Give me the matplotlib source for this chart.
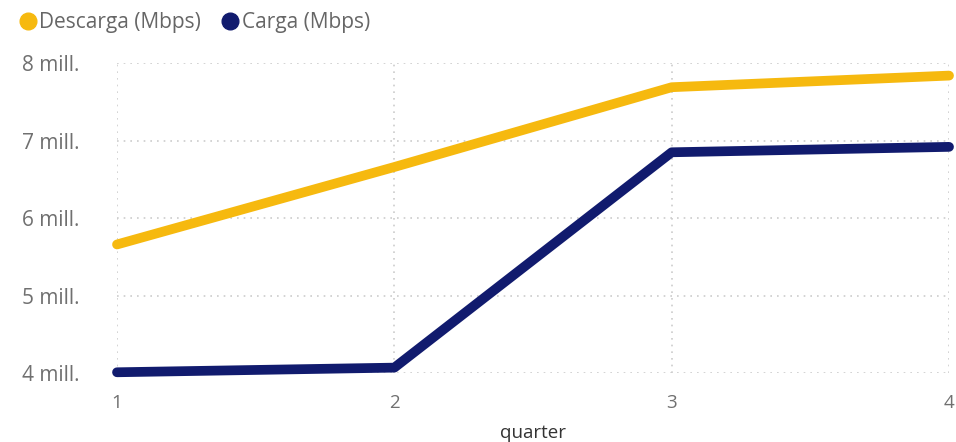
import matplotlib

matplotlib.use("Agg")
import matplotlib.pyplot as plt
from matplotlib.lines import Line2D

quarters = [1, 2, 3, 4]
descarga = [5.66, 6.66, 7.69, 7.84]
carga = [4.01, 4.07, 6.85, 6.92]
y_ticks = [4, 5, 6, 7, 8]
y_labels = ["4 mill.", "5 mill.", "6 mill.", "7 mill.", "8 mill."]

yellow = "#F6B90F"
navy = "#111B6E"
grey = "#707070"

plt.rcParams["font.family"] = ["Open Sans", "DejaVu Sans"]

fig = plt.figure(figsize=(9.56, 4.42), dpi=100)
ax = fig.add_axes([0.1224, 0.156, 0.8703, 0.701])

ax.plot(quarters, descarga, color=yellow, linewidth=7, solid_capstyle="round",
        solid_joinstyle="round", clip_on=False, zorder=3)
ax.plot(quarters, carga, color=navy, linewidth=7, solid_capstyle="round",
        solid_joinstyle="round", clip_on=False, zorder=3)

ax.set_xlim(1, 4)
ax.set_ylim(4, 8)
ax.set_xticks(quarters)
ax.set_xticklabels([str(q) for q in quarters])
ax.set_yticks(y_ticks)
ax.set_yticklabels(y_labels)
ax.tick_params(axis="both", length=0, colors=grey, labelsize=13.5)
ax.tick_params(axis="y", labelsize=15, pad=27)
ax.tick_params(axis="x", pad=15)
ax.grid(True, color="#cccccc", linestyle=(0, (1, 3)), linewidth=1.2)
for spine in ax.spines.values():
    spine.set_visible(False)
ax.set_xlabel("quarter", color="#333333", fontsize=13.5, labelpad=9)

handles = [
    Line2D([], [], marker="o", linestyle="", markersize=12, color=yellow, label="Descarga (Mbps)"),
    Line2D([], [], marker="o", linestyle="", markersize=12, color=navy, label="Carga (Mbps)"),
]
fig.legend(handles=handles, loc="upper left", bbox_to_anchor=(-0.008, 1.015), ncol=2, frameon=False,
           handletextpad=-0.25, columnspacing=0.6, handlelength=1.6, labelcolor="#666666", fontsize=15)

fig.savefig("out.png", dpi=100)
